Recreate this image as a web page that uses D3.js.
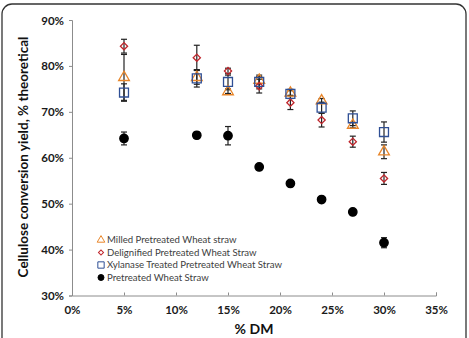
<!DOCTYPE html>
<html>
<head>
<meta charset="utf-8">
<script src="https://cdn.jsdelivr.net/npm/d3@7"></script>
<style>
  body { margin: 0; background: #fff; }
  svg { display: block; font-family: Lato, "Open Sans", sans-serif; }
</style>
</head>
<body>
<svg id="chart" width="469" height="338"></svg>
<script>
const dm = [0.05, 0.12, 0.15, 0.18, 0.21, 0.24, 0.27, 0.30];

const milled = [77.5, 77.5, 74.4, 76.9, 74.1, 72.4, 67.1, 61.3];
const milledErr = [5.0, 1.5, 0.4, 0.8, 0.5, 0.5, 0.6, 1.5];
const delig = [84.3, 81.8, 78.9, 75.6, 72.0, 68.2, 63.5, 55.5];
const deligErr = [1.5, 2.7, 0.6, 1.5, 1.5, 1.5, 1.2, 1.3];
const xylan = [74.2, 77.3, 76.5, 76.5, 73.9, 70.9, 68.6, 65.6];
const xylanErr = [1.9, 1.9, 1.5, 1.5, 1.0, 1.2, 1.6, 2.2];
const pretr = [64.2, 64.9, 64.8, 58.0, 54.4, 50.9, 48.2, 41.5];
const pretrErr = [1.4, 0.7, 2.0, 0.3, 0.3, 0.3, 0.5, 1.1];

const seriesNames = ["Milled Pretreated Wheat straw", "Delignified Pretreated Wheat Straw",
  "Xylanase Treated Pretreated Wheat Straw", "Pretreated Wheat Straw"];
const xTicks = [0, 0.05, 0.10, 0.15, 0.20, 0.25, 0.30, 0.35];
const yTicks = [30, 40, 50, 60, 70, 80, 90];

const svg = d3.select("#chart");

// outer frame
svg.append("rect")
  .attr("x", 2).attr("y", 4).attr("width", 464).attr("height", 350)
  .attr("rx", 10).attr("ry", 10)
  .attr("fill", "none").attr("stroke", "#333").attr("stroke-width", 1.3);

const x = d3.scaleLinear().domain([0, 0.35]).range([72, 436]);
const y = d3.scaleLinear().domain([30, 90]).range([295.5, 20]);

const axisColor = "#8c8c8c";

const yAxis = svg.append("g")
  .attr("transform", "translate(72,0)")
  .call(d3.axisLeft(y).tickValues(yTicks).tickFormat(d => d + "%").tickSize(3).tickPadding(5));
const xAxis = svg.append("g")
  .attr("transform", "translate(0,295.5)")
  .call(d3.axisBottom(x).tickValues(xTicks).tickFormat(d3.format(".0%")).tickSize(-3).tickPadding(10));

[xAxis, yAxis].forEach(g => {
  g.select(".domain").attr("stroke", axisColor);
  g.selectAll(".tick line").attr("stroke", axisColor);
  g.selectAll("text").attr("fill", "#1a1a1a")
    .style("font-size", "11.5px").style("font-weight", "bold")
    .style("font-family", "Lato, 'Open Sans', sans-serif");
});
yAxis.selectAll("text").attr("dy", "0.35em");

// axis titles
svg.append("text")
  .attr("transform", "translate(28,157) rotate(-90)")
  .attr("text-anchor", "middle")
  .style("font-size", "13.5px").style("font-weight", "bold").attr("fill", "#111")
  .text("Cellulose conversion yield,  % theoretical");
svg.append("text")
  .attr("x", 254).attr("y", 334)
  .attr("text-anchor", "middle")
  .style("font-size", "14px").style("font-weight", "bold").attr("fill", "#111")
  .text("% DM");

const series = [
  { vals: milled, err: milledErr, type: d3.symbolTriangle, size: 50, rot: 0, stroke: "#e8862a", fill: "none" },
  { vals: delig, err: deligErr, type: d3.symbolSquare, size: 26, rot: 45, stroke: "#c0272d", fill: "none" },
  { vals: xylan, err: xylanErr, type: d3.symbolSquare, size: 80, rot: 0, stroke: "#2f4f95", fill: "none" },
  { vals: pretr, err: pretrErr, type: d3.symbolCircle, size: 56, rot: 0, stroke: "#000", fill: "#000" }
];

// error bars
series.forEach(s => {
  const g = svg.append("g");
  const rows = dm.map((d, i) => ({ x: d, v: s.vals[i], e: s.err[i] }));
  g.selectAll("line.eb").data(rows).join("line")
    .attr("x1", d => x(d.x)).attr("x2", d => x(d.x))
    .attr("y1", d => y(d.v + d.e)).attr("y2", d => y(d.v - d.e))
    .attr("stroke", "#222").attr("stroke-width", 1.2);
  [1, -1].forEach(sign => {
    g.selectAll("line.cap" + sign).data(rows).join("line")
      .attr("x1", d => x(d.x) - 3).attr("x2", d => x(d.x) + 3)
      .attr("y1", d => y(d.v + sign * d.e)).attr("y2", d => y(d.v + sign * d.e))
      .attr("stroke", "#222").attr("stroke-width", 1.2);
  });
});

// markers
series.forEach(s => {
  svg.append("g").selectAll("path").data(dm.map((d, i) => [d, s.vals[i]])).join("path")
    .attr("transform", d => `translate(${x(d[0])},${y(d[1])}) rotate(${s.rot})`)
    .attr("d", d3.symbol().type(s.type).size(s.size))
    .attr("fill", s.fill).attr("stroke", s.stroke).attr("stroke-width", 1.3);
});

// legend
const legend = svg.append("g").attr("transform", "translate(101,240)");
seriesNames.forEach((name, i) => {
  const s = series[i];
  const row = legend.append("g").attr("transform", `translate(0,${i * 12.5})`);
  row.append("path")
    .attr("transform", `rotate(${s.rot})`)
    .attr("d", d3.symbol().type(s.type).size(s.size * 0.5))
    .attr("fill", s.fill).attr("stroke", s.stroke).attr("stroke-width", 1);
  row.append("text")
    .attr("x", 6).attr("dy", "0.35em")
    .style("font-size", "9.6px").attr("fill", "#404040")
    .text(name);
});
</script>
</body>
</html>
